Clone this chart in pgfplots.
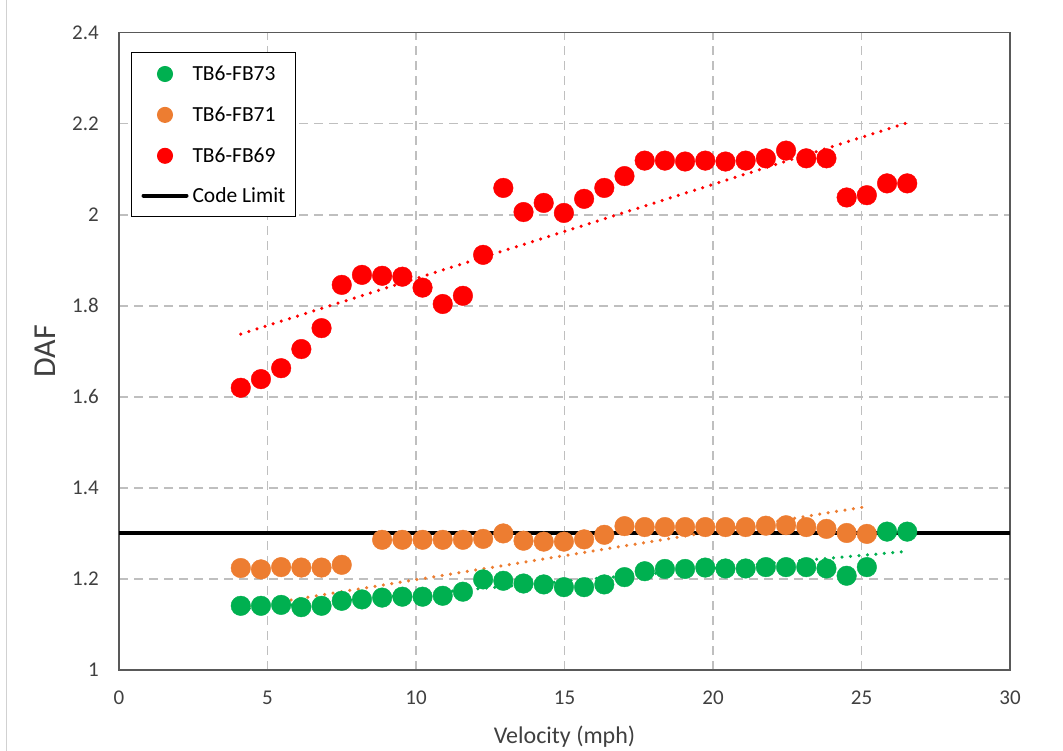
\documentclass[border=0pt]{standalone}
\usepackage{fontspec}
\setmainfont{Carlito}
\usepackage{pgfplots}
\pgfplotsset{compat=1.18}
\definecolor{cgreen}{RGB}{0,176,80}
\definecolor{corange}{RGB}{237,125,49}
\definecolor{cred}{RGB}{255,0,0}
\definecolor{cgrid}{RGB}{191,191,191}
\definecolor{ctext}{RGB}{64,64,64}
\definecolor{cframe}{RGB}{89,89,89}
\begin{document}
\begin{tikzpicture}[x=1pt,y=1pt]
\path[use as bounding box] (0,0) rectangle (1063,751);
\draw[color=black!18, line width=1pt] (6,0) -- (6,751);
\begin{axis}[
  at={(119pt,81pt)}, anchor=south west,
  scale only axis, width=891pt, height=637.3pt,
  xmin=0, xmax=30, ymin=1, ymax=2.4,
  xtick={0,5,10,15,20,25,30},
  ytick={1,1.2,1.4,1.6,1.8,2,2.2,2.4},
  yticklabels={1,1.2,1.4,1.6,1.8,2,2.2,2.4},
  grid=major,
  major grid style={cgrid, line width=1.5pt, dash pattern=on 9pt off 6pt},
  major tick length=0pt,
  axis line style={cframe, line width=1.2pt},
  /pgf/number format/assume math mode=true,
  tick label style={font=\fontsize{21}{25}\selectfont, text=ctext},
  yticklabel style={inner sep=0pt, anchor=east, xshift=-20pt},
  xticklabel style={inner sep=0pt, anchor=north, yshift=-21pt},
  xlabel={Velocity (mph)}, ylabel={DAF},
  xlabel style={font=\fontsize{24}{28}\selectfont, text=ctext, at={(axis description cs:0.5,-0.104)}, anchor=center},
  ylabel style={font=\fontsize{32}{36}\selectfont, text=ctext, at={(axis description cs:-0.083,0.5)}, anchor=center},
  legend style={at={(rel axis cs:0.01347,0.9697)}, anchor=north west,
    draw=black, line width=1pt, fill=white,
    font=\fontsize{21.5}{25}\selectfont,
    inner xsep=10pt, inner ysep=13.5pt, row sep=24.9pt, column sep=4pt,
    nodes={inner sep=0pt, text height=13.8pt, text depth=0pt}},
  legend cell align=left,
]
% code limit
\addplot[black, line width=4pt, forget plot] coordinates {(0,1.3) (30,1.3)};
% TB6-FB73
\addplot[only marks, mark=*, mark size=9.8pt, color=cgreen, mark options={draw=cgreen, fill=cgreen, line width=0.4pt},
  legend image code/.code={\fill[cgreen] (23.5pt,0pt) circle (7.5pt);}]
coordinates {
(4.10,1.141) (4.78,1.141) (5.46,1.143) (6.14,1.138) (6.82,1.141) (7.50,1.152)
(8.18,1.155) (8.86,1.159) (9.54,1.161) (10.22,1.161) (10.90,1.163) (11.58,1.172)
(12.26,1.199) (12.94,1.196) (13.62,1.190) (14.30,1.188) (14.98,1.182) (15.66,1.182)
(16.34,1.188) (17.02,1.204) (17.70,1.217) (18.38,1.222) (19.06,1.222) (19.74,1.225)
(20.42,1.223) (21.10,1.223) (21.78,1.226) (22.46,1.226) (23.14,1.226) (23.82,1.223)
(24.50,1.207) (25.18,1.226) (25.86,1.304) (26.54,1.304)
};
\addlegendentry{TB6-FB73}
% TB6-FB71
\addplot[only marks, mark=*, mark size=9.8pt, color=corange, mark options={draw=corange, fill=corange, line width=0.4pt},
  legend image code/.code={\fill[corange] (23.5pt,0pt) circle (7.5pt);}]
coordinates {
(4.10,1.224) (4.78,1.221) (5.46,1.226) (6.14,1.225) (6.82,1.225) (7.50,1.231)
(8.86,1.286) (9.54,1.286) (10.22,1.286) (10.90,1.286) (11.58,1.286) (12.26,1.288)
(12.94,1.300) (13.62,1.284) (14.30,1.282) (14.98,1.282) (15.66,1.287) (16.34,1.297)
(17.02,1.316) (17.70,1.314) (18.38,1.314) (19.06,1.314) (19.74,1.314) (20.42,1.314)
(21.10,1.314) (21.78,1.317) (22.46,1.318) (23.14,1.314) (23.82,1.310) (24.50,1.301)
(25.18,1.299)
};
\addlegendentry{TB6-FB71}
% TB6-FB69
\addplot[only marks, mark=*, mark size=9.8pt, color=cred, mark options={draw=cred, fill=cred, line width=0.4pt},
  legend image code/.code={\fill[cred] (23.5pt,0pt) circle (7.5pt);}]
coordinates {
(4.10,1.620) (4.78,1.639) (5.46,1.663) (6.14,1.705) (6.82,1.751) (7.50,1.846)
(8.18,1.868) (8.86,1.866) (9.54,1.864) (10.22,1.840) (10.90,1.804) (11.58,1.822)
(12.26,1.912) (12.94,2.059) (13.62,2.006) (14.30,2.026) (14.98,2.004) (15.66,2.035)
(16.34,2.059) (17.02,2.085) (17.70,2.119) (18.38,2.119) (19.06,2.117) (19.74,2.119)
(20.42,2.117) (21.10,2.119) (21.78,2.124) (22.46,2.141) (23.14,2.124) (23.82,2.124)
(24.50,2.038) (25.18,2.043) (25.86,2.069) (26.54,2.069)
};
\addlegendentry{TB6-FB69}
% trend lines
\addplot[cgreen, line width=3.5pt, line cap=round, dash pattern=on 0pt off 8.5pt, forget plot]
  coordinates {(4.10,1.133) (26.54,1.2605)};
\addplot[corange, line width=3.5pt, line cap=round, dash pattern=on 0pt off 8.5pt, forget plot]
  coordinates {(4.10,1.136) (25.18,1.359)};
\addplot[cred, line width=3.5pt, line cap=round, dash pattern=on 0pt off 8.5pt, forget plot]
  coordinates {(4.10,1.738) (26.54,2.202)};
\addlegendimage{black, line width=4pt, legend image code/.code={\draw[black, line width=4pt, line cap=round] (2pt,0pt) -- (45pt,0pt);}}
\addlegendentry{Code Limit}
\end{axis}
\end{tikzpicture}
\end{document}
